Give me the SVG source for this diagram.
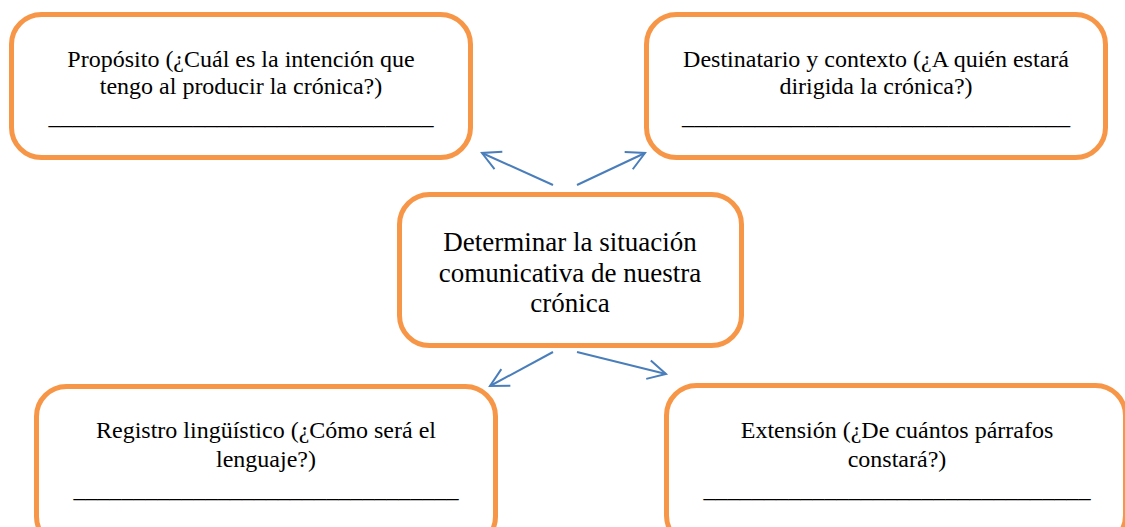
<svg xmlns="http://www.w3.org/2000/svg" width="1125" height="527" viewBox="0 0 1125 527">
<style>
.box{fill:#fff;stroke:#F79646;stroke-width:5}
text{font-family:'Liberation Serif','Times New Roman',serif;font-size:24px;fill:#000;text-anchor:middle}
.c{font-size:27px}
.conn line{stroke:#4A7EBB;stroke-width:2;fill:none}
</style>
<defs>
<marker id="ah" markerUnits="userSpaceOnUse" markerWidth="24" markerHeight="24" refX="20" refY="11" orient="auto" viewBox="0 0 24 24">
<path d="M2,1.5 L20,11 L2,20.5" fill="none" stroke="#4A7EBB" stroke-width="2"/>
</marker>
</defs>
<rect width="1125" height="527" fill="#fff"/>
<g class="conn" id="connectors">
<line x1="553" y1="185" x2="482" y2="153" marker-end="url(#ah)"/>
<line x1="577" y1="185" x2="645" y2="153" marker-end="url(#ah)"/>
<line x1="553" y1="352" x2="490" y2="386" marker-end="url(#ah)"/>
<line x1="577" y1="352" x2="666" y2="374" marker-end="url(#ah)"/>
</g>
<g id="proposito">
<rect class="box" x="11.5" y="14.5" width="459" height="143" rx="30"/>
<text x="241" y="66.5">Propósito (¿Cuál es la intención que</text>
<text x="241" y="94">tengo al producir la crónica?)</text>
<text x="241" y="124" textLength="385" lengthAdjust="spacingAndGlyphs">________________________________</text>
</g>
<g id="destinatario">
<rect class="box" x="646.5" y="14.5" width="459" height="143" rx="30"/>
<text x="876" y="66.5">Destinatario y contexto (¿A quién estará</text>
<text x="876" y="94">dirigida la crónica?)</text>
<text x="876" y="124" textLength="388" lengthAdjust="spacingAndGlyphs">________________________________</text>
</g>
<g id="centro">
<rect class="box" x="399.5" y="194.5" width="342" height="151" rx="30"/>
<text class="c" x="570" y="251">Determinar la situación</text>
<text class="c" x="570" y="282">comunicativa de nuestra</text>
<text class="c" x="570" y="312">crónica</text>
</g>
<g id="registro">
<rect class="box" x="36.5" y="386.5" width="459" height="160" rx="30"/>
<text x="266" y="438">Registro lingüístico (¿Cómo será el</text>
<text x="266" y="466.5">lenguaje?)</text>
<text x="266" y="497" textLength="385" lengthAdjust="spacingAndGlyphs">________________________________</text>
</g>
<g id="extension">
<rect class="box" x="666.5" y="385.5" width="459" height="160" rx="30"/>
<text x="897" y="438">Extensión (¿De cuántos párrafos</text>
<text x="897" y="466.5">constará?)</text>
<text x="897" y="497" textLength="387" lengthAdjust="spacingAndGlyphs">________________________________</text>
</g>
</svg>
